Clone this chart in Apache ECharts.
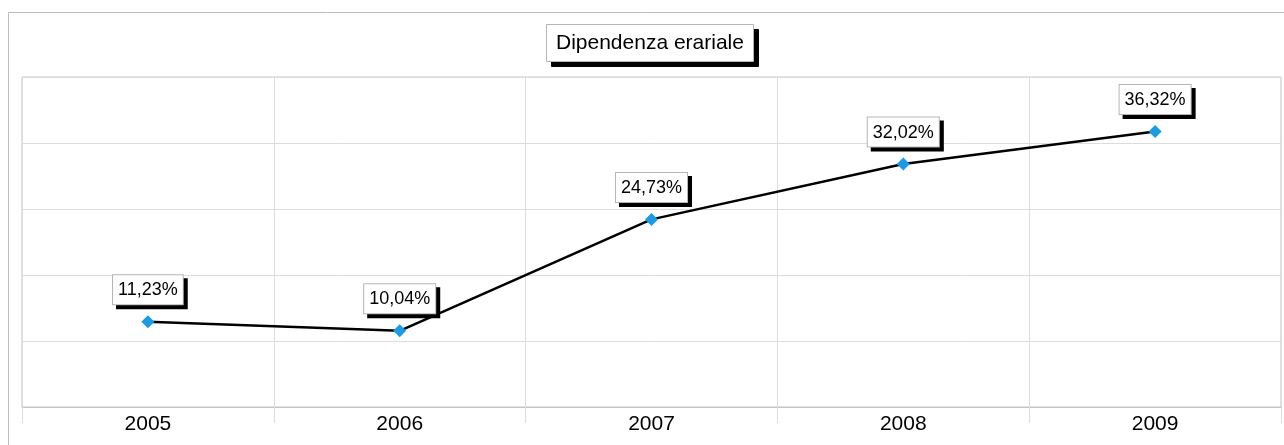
<!DOCTYPE html>
<html>
<head>
<meta charset="utf-8">
<script src="https://cdn.jsdelivr.net/npm/echarts@6/dist/echarts.min.js"></script>
<style>
  html, body { margin: 0; padding: 0; background: #fff; }
  #chart { width: 1284px; height: 445px; }
</style>
</head>
<body>
<div id="chart"></div>
<script>
// dati
var anni = ['2005', '2006', '2007', '2008', '2009'];
var dipendenza = [11.23, 10.04, 24.73, 32.02, 36.32];

var font = 'Arial, "Liberation Sans", sans-serif';
var titolo = 'Dipendenza erariale';

function fmtPerc (p) {
  return p.value.toFixed(2).replace('.', ',') + '%';
}

// stile comune delle etichette (box)
var labelBase = {
  show: true,
  position: 'top',
  distance: 11,
  fontFamily: font,
  fontSize: 18,
  padding: [6, 5, 5, 5],
  borderWidth: 1,
  formatter: fmtPerc
};

var titleText = {
  fontFamily: font,
  fontSize: 21,
  fontWeight: 'normal'
};

var myChart = echarts.init(document.getElementById('chart'));

var option = {
  backgroundColor: '#fff',
  animation: false,
  // cornice esterna (solo lati sinistro e superiore visibili)
  graphic: [{
    type: 'rect',
    shape: { x: 8.5, y: 12.5, width: 1400, height: 600 },
    style: { fill: 'none', stroke: '#bdbdbd', lineWidth: 1 },
    z: -1
  }],
  title: [
    {
      // ombra nera del titolo
      text: titolo,
      left: 551,
      top: 29,
      padding: [9, 10, 8, 10],
      backgroundColor: '#000',
      borderColor: '#000',
      borderWidth: 1,
      textStyle: Object.assign({ color: 'rgba(0,0,0,0)' }, titleText)
    },
    {
      text: titolo,
      left: 546,
      top: 24,
      padding: [9, 10, 8, 10],
      backgroundColor: '#fff',
      borderColor: '#b5b5b5',
      borderWidth: 1,
      textStyle: Object.assign({ color: '#000' }, titleText)
    }
  ],
  grid: {
    left: 22,
    right: 3,
    top: 77,
    bottom: 38,
    show: true,
    borderColor: '#c4c4c4',
    borderWidth: 1,
    containLabel: false
  },
  xAxis: {
    type: 'category',
    data: anni,
    boundaryGap: true,
    axisLine: { show: true, lineStyle: { color: '#c4c4c4', width: 1 } },
    axisTick: { show: true, length: 16, inside: false, lineStyle: { color: '#dcdcdc' } },
    splitLine: { show: true, lineStyle: { color: '#dcdcdc', width: 1 } },
    axisLabel: {
      fontFamily: font,
      fontSize: 21,
      color: '#000',
      margin: 7
    }
  },
  yAxis: {
    type: 'value',
    min: 0,
    max: 43.5,
    interval: 8.7,
    axisLine: { show: false },
    axisTick: { show: false },
    axisLabel: { show: false },
    splitLine: { show: true, lineStyle: { color: '#dcdcdc', width: 1 } }
  },
  series: [
    {
      // solo l'ombra nera delle etichette
      name: 'ombra',
      type: 'line',
      data: dipendenza,
      z: 2,
      symbol: 'diamond',
      symbolSize: 13,
      showAllSymbol: true,
      itemStyle: { color: 'rgba(0,0,0,0)' },
      lineStyle: { opacity: 0 },
      silent: true,
      label: Object.assign({}, labelBase, {
        color: 'rgba(0,0,0,0)',
        backgroundColor: '#000',
        borderColor: '#000',
        offset: [4, 4]
      })
    },
    {
      name: titolo,
      type: 'line',
      data: dipendenza,
      z: 3,
      symbol: 'diamond',
      symbolSize: 13,
      itemStyle: { color: '#1a9be3' },
      lineStyle: { color: '#000', width: 2.5 },
      label: Object.assign({}, labelBase, {
        color: '#000',
        backgroundColor: '#fff',
        borderColor: '#b5b5b5'
      })
    }
  ]
};

myChart.setOption(option);
</script>
</body>
</html>
